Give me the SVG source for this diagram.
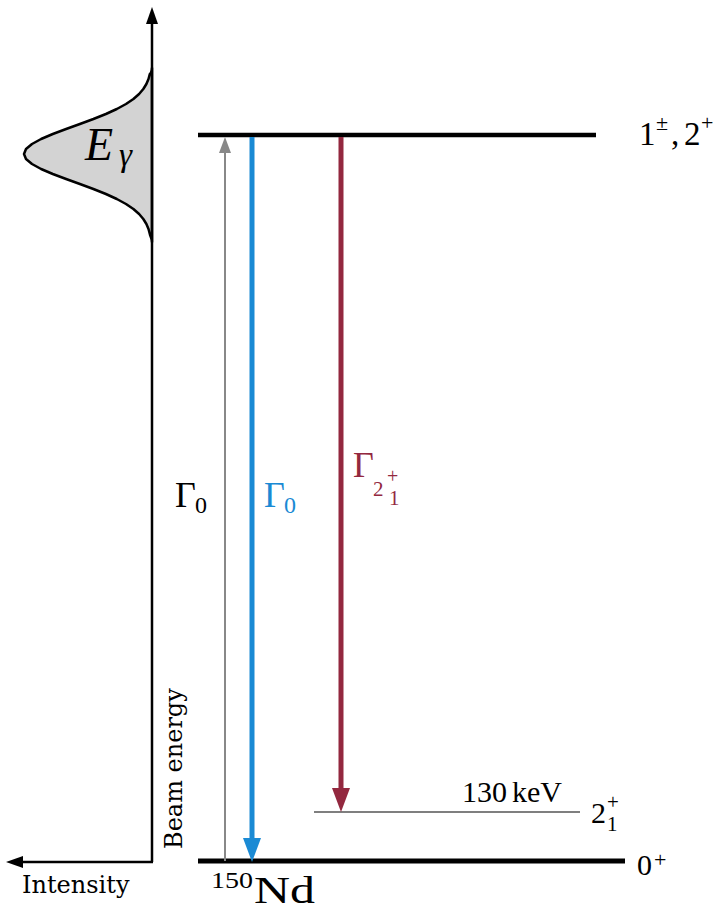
<svg xmlns="http://www.w3.org/2000/svg" width="725" height="920" viewBox="0 0 725 920">
<style>
.m{font-family:"Liberation Serif","DejaVu Serif",serif;fill:#000}
.t{font-family:"DejaVu Serif","Liberation Serif",serif;font-size:24px;fill:#000}
.blue{fill:#1a8ad4}
.red{fill:#93283f}
</style>
<rect width="725" height="920" fill="#fff"/>
<g id="axes">
<path d="M152,68 C152,72 150,74 149.8,74 L148.5,79 L146.4,84 L143.3,89 L139.1,94 L133.4,99 L126,104 L116.8,109 L105.9,114 L93.4,119 L79.9,124 L66.1,129 L52.8,134 L41.1,139 L32,144 L26,149 L24,154 L26,159 L32,164 L41.1,169 L52.8,174 L66.1,179 L79.9,184 L93.4,189 L105.9,194 L116.8,199 L126,204 L133.4,209 L139.1,214 L143.3,219 L146.4,224 L148.5,229 L149.8,234 C150,236 152,238 152,242 Z" fill="#d3d3d3" stroke="#000" stroke-width="2.5" stroke-linejoin="round"/>
<line x1="152" y1="862" x2="152" y2="18" stroke="#000" stroke-width="2.5"/>
<path d="M152,7 L146,24 L158,24 Z" fill="#000"/>
<line x1="153" y1="862" x2="18" y2="862" stroke="#000" stroke-width="2.5"/>
<path d="M6,862 L23,856 L23,868 Z" fill="#000"/>
<text x="85" y="160" class="m" font-size="46" font-style="italic">E</text>
<text x="119" y="166" class="m" font-size="33" font-style="italic">γ</text>
<text x="22" y="893" class="t">Intensity</text>
<text transform="translate(182,849) rotate(-90)" class="t" x="0" y="0">Beam energy</text>
</g>
<g id="level-upper">
<line x1="198" y1="135" x2="596" y2="135" stroke="#000" stroke-width="4.5"/>
<text x="639" y="145" class="m" font-size="33">1</text>
<text x="656" y="130" class="m" font-size="22">±</text>
<text x="671" y="145" class="m" font-size="33">,</text>
<text x="684" y="145" class="m" font-size="33">2</text>
<text x="701" y="130" class="m" font-size="22">+</text>
</g>
<g id="level-ground">
<line x1="198" y1="861" x2="625" y2="861" stroke="#000" stroke-width="5"/>
<text x="637" y="875" class="m" font-size="30">0</text>
<text x="654" y="867" class="m" font-size="22">+</text>
<text x="211" y="888" class="m" font-size="23" textLength="42" lengthAdjust="spacingAndGlyphs">150</text>
<text x="254" y="903" class="m" font-size="37" textLength="61" lengthAdjust="spacingAndGlyphs">Nd</text>
</g>
<g id="level-21">
<line x1="314" y1="812" x2="580" y2="812" stroke="#555" stroke-width="1.6"/>
<text x="462" y="802" class="m" font-size="30">130<tspan dx="5">keV</tspan></text>
<text x="591" y="823" class="m" font-size="30">2</text>
<text x="607" y="809" class="m" font-size="21">+</text>
<text x="607" y="831" class="m" font-size="21">1</text>
</g>
<g id="connectors">
<line x1="225" y1="861" x2="225" y2="150" stroke="#888" stroke-width="2"/>
<path d="M225,137 L219,153 L231,153 Z" fill="#888"/>
<line x1="252" y1="137" x2="252" y2="842" stroke="#1a8ad4" stroke-width="5"/>
<path d="M252,862 L243,838 L261,838 Z" fill="#1a8ad4"/>
<line x1="341" y1="137" x2="341" y2="792" stroke="#93283f" stroke-width="5"/>
<path d="M341,812 L332,788 L350,788 Z" fill="#93283f"/>
</g>
<g id="labels">
<text x="175" y="507" class="m" font-size="36">Γ</text>
<text x="195" y="513" class="m" font-size="24">0</text>
<text x="264" y="507" class="m blue" font-size="36">Γ</text>
<text x="284" y="513" class="m blue" font-size="24">0</text>
<text x="353" y="477" class="m red" font-size="36">Γ</text>
<text x="373" y="496" class="m red" font-size="21">2</text>
<text x="387" y="483" class="m red" font-size="20">+</text>
<text x="389" y="505" class="m red" font-size="21">1</text>
</g>
</svg>
